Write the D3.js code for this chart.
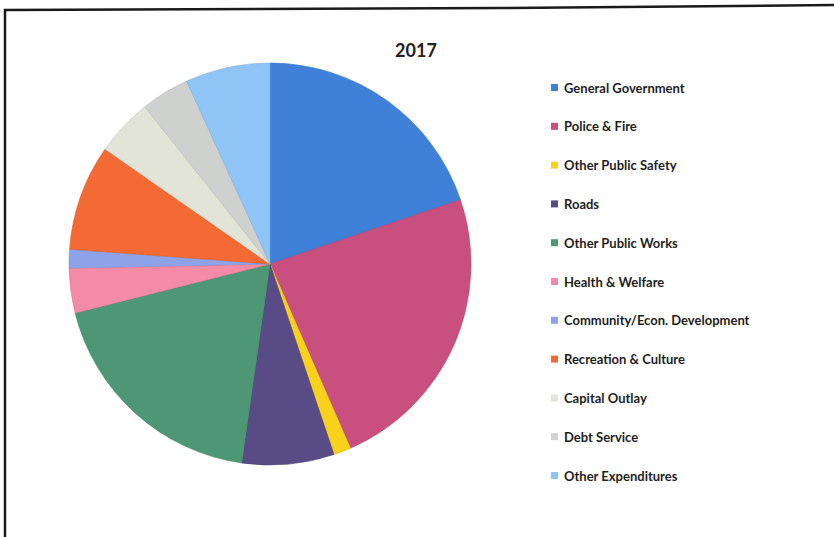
<!DOCTYPE html>
<html>
<head>
<meta charset="utf-8">
<script src="https://cdn.jsdelivr.net/npm/d3@7/dist/d3.min.js"></script>
<style>
  html, body { margin: 0; padding: 0; background: #fff; }
  svg { display: block; }
</style>
</head>
<body>
<svg id="chart" width="834" height="537"></svg>
<script>
// 2017 expenditures by function (share of total, %)
const categories = [
  "General Government", "Police & Fire", "Other Public Safety", "Roads",
  "Other Public Works", "Health & Welfare", "Community/Econ. Development",
  "Recreation & Culture", "Capital Outlay", "Debt Service", "Other Expenditures"
];
const shares = [19.8, 23.6, 1.4, 7.4, 18.8, 3.6, 1.5, 8.5, 4.6, 3.9, 6.8];
const colors = [
  "#3f80d8", "#c94f7e", "#f7d11c", "#594b86",
  "#4d9774", "#f58aa6", "#8ea2ea", "#f46a35",
  "#e3e4d8", "#cfd1cf", "#8ec4f6"
];
const title = "2017";

const svg = d3.select("#chart");

// scanned frame around the chart
svg.append("path")
  .attr("d", "M5,537 L5,10 L500,8 L834,5")
  .attr("fill", "none").attr("stroke", "#1a1a1a").attr("stroke-width", 2.5);

svg.append("text")
  .attr("x", 416).attr("y", 57)
  .attr("text-anchor", "middle")
  .attr("font-family", "Lato, 'Open Sans', sans-serif")
  .attr("font-weight", "bold")
  .attr("font-size", 18)
  .attr("fill", "#222")
  .text(title);

const data = categories.map((c, i) => ({ name: c, value: shares[i], color: colors[i] }));

const pie = d3.pie().value(d => d.value).sort(null);
const arc = d3.arc().innerRadius(0).outerRadius(201);

const g = svg.append("g").attr("transform", "translate(270,264)");
g.selectAll("path")
  .data(pie(data))
  .join("path")
  .attr("d", arc)
  .attr("fill", d => d.data.color)
  .attr("stroke", d => d3.color(d.data.color).darker(0.3))
  .attr("stroke-width", 0.6);

// legend
const leg = svg.append("g").attr("transform", "translate(551,88)");
const rowH = 38.8;
const item = leg.selectAll("g")
  .data(data)
  .join("g")
  .attr("transform", (d, i) => `translate(0,${i * rowH})`);
item.append("rect")
  .attr("x", 0).attr("y", -4).attr("width", 7).attr("height", 7)
  .attr("fill", d => d.color);
item.append("text")
  .attr("x", 13).attr("y", 4.5)
  .attr("font-family", "Lato, 'Open Sans', sans-serif")
  .attr("font-weight", "bold")
  .attr("font-size", 13)
  .attr("fill", "#1e1e1e")
  .text(d => d.name);
</script>
</body>
</html>
